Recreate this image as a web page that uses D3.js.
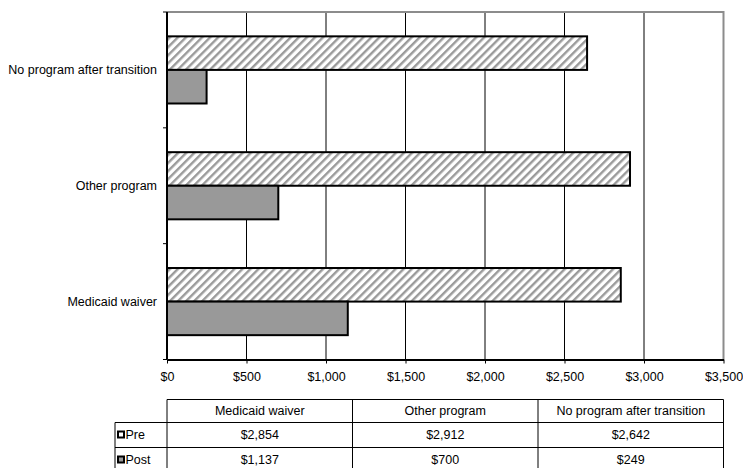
<!DOCTYPE html>
<html>
<head>
<meta charset="utf-8">
<script src="https://cdn.jsdelivr.net/npm/d3@7"></script>
<style>
  html, body { margin: 0; padding: 0; background: #fff; }
  svg { display: block; font-family: "Liberation Sans", Arial, sans-serif; }
</style>
</head>
<body>
<svg id="chart" width="743" height="468"></svg>
<script>
// Monthly cost per person, before and after transition, by program group
const categories = ["Medicaid waiver", "Other program", "No program after transition"];
const seriesNames = ["Pre", "Post"];
const preValues = [2854, 2912, 2642];
const postValues = [1137, 700, 249];
const xTicks = [0, 500, 1000, 1500, 2000, 2500, 3000, 3500];

const FONT = "Liberation Sans, Arial, sans-serif";
const FS = 12.5;

const svg = d3.select("#chart");
const plot = { left: 167, top: 12, right: 723.5, bottom: 359.5 };

const series = [
  { name: seriesNames[0], values: preValues },
  { name: seriesNames[1], values: postValues }
];

// Hatched fill for the "Pre" bars
const defs = svg.append("defs");
const pat = defs.append("pattern")
  .attr("id", "hatch")
  .attr("patternUnits", "userSpaceOnUse")
  .attr("width", 5.7).attr("height", 10)
  .attr("patternTransform", "rotate(45)");
pat.append("rect").attr("width", 5.7).attr("height", 10).attr("fill", "#fff");
pat.append("rect").attr("x", 0).attr("width", 2.4).attr("height", 10).attr("fill", "#9a9a9a");

const fills = { Pre: "url(#hatch)", Post: "#999999" };

const x = d3.scaleLinear().domain([0, 3500]).range([plot.left, plot.right]);
// categories run bottom-to-top
const y = d3.scaleBand().domain(categories).range([plot.bottom, plot.top]).paddingInner(0).paddingOuter(0);
// Pre above Post within each category
const ySub = d3.scaleBand().domain(seriesNames).range([0, y.bandwidth()]).paddingInner(0).paddingOuter(0.725);

// Vertical gridlines
svg.append("g")
  .selectAll("line")
  .data(xTicks.slice(1, -1))
  .join("line")
  .attr("x1", d => x(d)).attr("x2", d => x(d))
  .attr("y1", plot.top).attr("y2", plot.bottom)
  .attr("stroke", "#000").attr("stroke-width", 1);

// Plot frame (top and right)
svg.append("path")
  .attr("d", `M${plot.left},${plot.top}H${plot.right}V${plot.bottom}`)
  .attr("fill", "none").attr("stroke", "#8c8c8c").attr("stroke-width", 2);

// Bars
const groups = svg.append("g")
  .selectAll("g")
  .data(categories)
  .join("g")
  .attr("transform", d => `translate(0,${y(d)})`);

groups.selectAll("rect")
  .data((c, i) => series.map(s => ({ name: s.name, value: s.values[i] })))
  .join("rect")
  .attr("x", x(0))
  .attr("y", d => ySub(d.name))
  .attr("width", d => x(d.value) - x(0))
  .attr("height", ySub.bandwidth())
  .attr("fill", d => fills[d.name])
  .attr("stroke", "#000")
  .attr("stroke-width", 2);

// X axis
const xAxis = svg.append("g")
  .attr("transform", `translate(0,${plot.bottom})`)
  .call(d3.axisBottom(x).tickValues(xTicks).tickFormat(d3.format("$,")).tickSize(4).tickSizeOuter(0));
xAxis.attr("font-family", FONT).attr("font-size", FS);
xAxis.select(".domain").attr("stroke", "#000").attr("stroke-width", 2);
xAxis.selectAll(".tick line").attr("stroke", "#000");
xAxis.selectAll(".tick text")
  .attr("y", 13).attr("dy", "0.71em")
  .attr("fill", "#000");

// Y axis line and ticks at category boundaries
svg.append("line")
  .attr("x1", plot.left).attr("x2", plot.left)
  .attr("y1", plot.top).attr("y2", plot.bottom)
  .attr("stroke", "#000").attr("stroke-width", 2);
const bounds = categories.map(c => y(c)).concat([plot.bottom]);
svg.append("g")
  .selectAll("line")
  .data(bounds)
  .join("line")
  .attr("x1", plot.left - 4).attr("x2", plot.left)
  .attr("y1", d => d).attr("y2", d => d)
  .attr("stroke", "#000").attr("stroke-width", 1);

// Category labels
svg.append("g")
  .attr("font-family", FONT).attr("font-size", FS)
  .selectAll("text")
  .data(categories)
  .join("text")
  .attr("x", plot.left - 10)
  .attr("y", d => y(d) + y.bandwidth() / 2)
  .attr("dy", "0.35em")
  .attr("text-anchor", "end")
  .text(d => d);

// Data table below the chart
const col = d3.scaleBand().domain(categories).range([plot.left, plot.right]);
const legendLeft = 115;
const rowTops = [399.5, 422.5, 447.5, 472.5];
const table = svg.append("g").attr("stroke", "#000").attr("stroke-width", 1);

// horizontal rules
table.append("line").attr("x1", plot.left).attr("x2", plot.right).attr("y1", rowTops[0]).attr("y2", rowTops[0]);
[rowTops[1], rowTops[2], rowTops[3]].forEach(yy => {
  table.append("line").attr("x1", legendLeft).attr("x2", plot.right).attr("y1", yy).attr("y2", yy);
});
// vertical rules
table.append("line").attr("x1", legendLeft).attr("x2", legendLeft).attr("y1", rowTops[1]).attr("y2", rowTops[3]);
col.domain().forEach(c => {
  table.append("line").attr("x1", col(c)).attr("x2", col(c)).attr("y1", rowTops[0]).attr("y2", rowTops[3]);
});
table.append("line").attr("x1", plot.right).attr("x2", plot.right).attr("y1", rowTops[0]).attr("y2", rowTops[3]);

const tt = svg.append("g").attr("font-family", FONT).attr("font-size", FS).attr("fill", "#000");
// header row
tt.selectAll(".hdr")
  .data(categories)
  .join("text")
  .attr("class", "hdr")
  .attr("x", d => col(d) + col.bandwidth() / 2)
  .attr("y", (rowTops[0] + rowTops[1]) / 2)
  .attr("dy", "0.35em")
  .attr("text-anchor", "middle")
  .text(d => d);

const fmt = d3.format("$,");
series.forEach((s, si) => {
  const cy = (rowTops[si + 1] + rowTops[si + 2]) / 2;
  // legend key
  svg.append("rect")
    .attr("x", 118).attr("y", cy - 3.5)
    .attr("width", 6).attr("height", 6)
    .attr("fill", s.name === "Pre" ? "#fff" : "#999")
    .attr("stroke", "#000").attr("stroke-width", 2);
  tt.append("text")
    .attr("x", 125.5).attr("y", cy).attr("dy", "0.35em")
    .text(s.name);
  tt.selectAll(".v" + si)
    .data(s.values)
    .join("text")
    .attr("x", (d, i) => col(categories[i]) + col.bandwidth() / 2)
    .attr("y", cy).attr("dy", "0.35em")
    .attr("text-anchor", "middle")
    .text(d => fmt(d));
});
</script>
</body>
</html>
